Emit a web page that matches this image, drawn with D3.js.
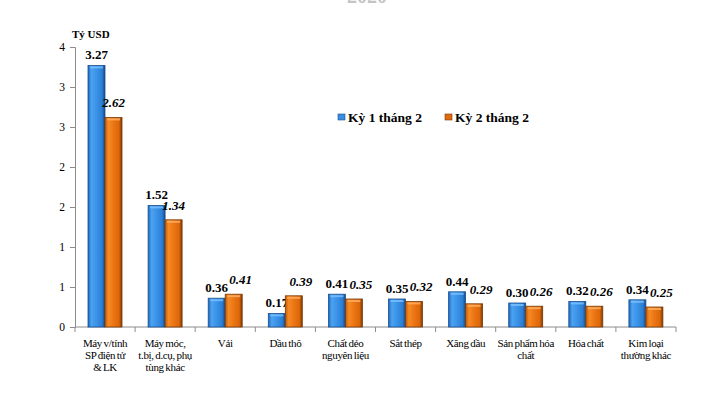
<!DOCTYPE html>
<html>
<head>
<meta charset="utf-8">
<script src="https://cdn.jsdelivr.net/npm/d3@7"></script>
<style>
  body { margin: 0; background: #fff; }
  svg text { font-family: "Liberation Serif", "Times New Roman", "DejaVu Serif", serif !important; }
</style>
</head>
<body>
<div id="chart"></div>
<script>
var categories = [
    ["Máy v/tính", "SP điện tử", "& LK"],
    ["Máy móc,", "t.bị, d.cụ, phụ", "tùng khác"],
    ["Vải"],
    ["Dầu thô"],
    ["Chất dẻo", "nguyên liệu"],
    ["Sắt thép"],
    ["Xăng dầu"],
    ["Sản phẩm hóa", "chất"],
    ["Hóa chất"],
    ["Kim loại", "thường khác"]
];
var seriesNames = ["Kỳ 1 tháng 2", "Kỳ 2 tháng 2"];
var ky1 = [3.27, 1.52, 0.36, 0.17, 0.41, 0.35, 0.44, 0.30, 0.32, 0.34];
var ky2 = [2.62, 1.34, 0.41, 0.39, 0.35, 0.32, 0.29, 0.26, 0.26, 0.25];
var yTicks = [0, 0.5, 1, 1.5, 2, 2.5, 3, 3.5];
var yTickLabels = ["0", "1", "1", "2", "2", "3", "3", "4"];

var serif = "'Liberation Serif', 'Times New Roman', serif";
var svgWidth = 728;
var svgHeight = 396;
var margin = {top: 47, right: 52, bottom: 69, left: 75};
var width = svgWidth - margin.left - margin.right;
var height = svgHeight - margin.top - margin.bottom;

var svg = d3.select("#chart").append("svg")
    .attr("width", svgWidth)
    .attr("height", svgHeight)
    .attr("font-family", serif);

// gradients for the bevelled bars
var defs = svg.append("defs");
var grads = [
    {id: "gBlue", stops: ["#1f66bb", "#4aa3f2", "#3b92e6", "#2a7fd6", "#174a86"]},
    {id: "gOrange", stops: ["#c45a05", "#f68a25", "#ec7514", "#dd680a", "#7a3a05"]}
];
grads.forEach(function(g) {
    var lg = defs.append("linearGradient").attr("id", g.id)
        .attr("x1", "0%").attr("x2", "100%").attr("y1", "0%").attr("y2", "0%");
    [0, 20, 50, 82, 100].forEach(function(o, i) {
        lg.append("stop").attr("offset", o + "%").attr("stop-color", g.stops[i]);
    });
});
var fills = ["url(#gBlue)", "url(#gOrange)"];
var edges = ["#1b4f8f", "#7a3a05"];
var tops = ["#7cc2ff", "#ffb066"];
var swatch = ["#3a8ee0", "#e06a10"];

var g = svg.append("g").attr("transform", "translate(" + margin.left + "," + margin.top + ")");

var xScale = d3.scaleBand().domain(d3.range(categories.length)).range([0, width]);
var xInner = d3.scaleBand().domain([0, 1]).range([13, 47]);
var yScale = d3.scaleLinear().domain([0, 3.5]).range([height, 0]);

// title, clipped at the top edge as in the source image
svg.append("text")
    .attr("x", 367).attr("y", 3)
    .attr("text-anchor", "middle")
    .style("font-family", serif)
    .style("font-size", "20px").style("font-weight", "bold")
    .style("fill", "#c4c4c4")
    .text("2020");

// y axis
var leftAxis = d3.axisLeft(yScale).tickValues(yTicks)
    .tickFormat(function(d, i) { return yTickLabels[i]; })
    .tickSize(5).tickPadding(5);
var yAxisG = g.append("g").call(leftAxis).attr("font-family", serif);
yAxisG.select(".domain").attr("stroke", "#8c8c8c");
yAxisG.selectAll(".tick line").attr("stroke", "#8c8c8c");
yAxisG.selectAll(".tick text")
    .style("font-family", serif).style("font-size", "11.5px").attr("fill", "#000");

svg.append("text")
    .attr("x", 72).attr("y", 38)
    .style("font-family", serif)
    .style("font-size", "11px").style("font-weight", "bold")
    .text("Tỷ USD");

// x axis line and category separators
g.append("line")
    .attr("x1", 0).attr("x2", width)
    .attr("y1", height).attr("y2", height)
    .attr("stroke", "#8c8c8c");
g.selectAll(".sep")
    .data(d3.range(categories.length + 1))
    .enter().append("line")
    .attr("x1", function(d) { return d < categories.length ? xScale(d) : width; })
    .attr("x2", function(d) { return d < categories.length ? xScale(d) : width; })
    .attr("y1", height).attr("y2", height + 5)
    .attr("stroke", "#8c8c8c");

// category labels
var catLabels = g.selectAll(".cat")
    .data(categories)
    .enter().append("text")
    .attr("text-anchor", "middle")
    .style("font-family", serif)
    .style("font-size", "11px")
    .style("letter-spacing", "-0.35px")
    .style("word-spacing", "-0.8px")
    .attr("transform", function(d, i) {
        return "translate(" + (xScale(i) + xScale.bandwidth() / 2) + "," + (height + 20) + ")";
    });
catLabels.selectAll("tspan")
    .data(function(d) { return d; })
    .enter().append("tspan")
    .attr("x", 0)
    .attr("dy", function(d, i) { return i === 0 ? 0 : 12; })
    .text(function(d) { return d; });

// bars
var series = [ky1, ky2];
series.forEach(function(vals, s) {
    var bars = g.selectAll(".bar" + s)
        .data(vals)
        .enter().append("g");
    bars.append("rect")
        .attr("x", function(d, i) { return xScale(i) + xInner(s); })
        .attr("y", function(d) { return yScale(d); })
        .attr("width", xInner.bandwidth())
        .attr("height", function(d) { return height - yScale(d); })
        .attr("fill", fills[s])
        .attr("stroke", edges[s])
        .attr("stroke-width", 0.8);
    bars.append("rect")
        .attr("x", function(d, i) { return xScale(i) + xInner(s) + 2; })
        .attr("y", function(d) { return yScale(d) + 1; })
        .attr("width", xInner.bandwidth() - 4)
        .attr("height", 2)
        .attr("fill", tops[s])
        .attr("opacity", 0.8);

    g.selectAll(".lab" + s)
        .data(vals)
        .enter().append("text")
        .attr("text-anchor", "middle")
        .attr("x", function(d, i) {
            return xScale(i) + xInner(s) + xInner.bandwidth() / 2 + (s === 1 && d < 1 ? 7 : 0);
        })
        .attr("y", function(d) { return yScale(d) - (s === 0 ? 6 : 10); })
        .style("font-family", serif)
        .style("font-size", "13px")
        .style("font-weight", "bold")
        .style("font-style", s === 1 ? "italic" : "normal")
        .text(function(d) { return d.toFixed(2); });
});

// legend
var legend = svg.append("g").attr("transform", "translate(338,114)");
var legX = [0, 107];
seriesNames.forEach(function(name, i) {
    legend.append("rect")
        .attr("x", legX[i]).attr("y", 0)
        .attr("width", 7).attr("height", 6)
        .attr("fill", swatch[i]).attr("stroke", edges[i]).attr("stroke-width", 0.6);
    legend.append("text")
        .attr("x", legX[i] + 10).attr("y", 8)
        .style("font-family", serif)
        .style("font-size", "13.5px").style("font-weight", "bold")
        .text(name);
});
</script>
</body>
</html>
